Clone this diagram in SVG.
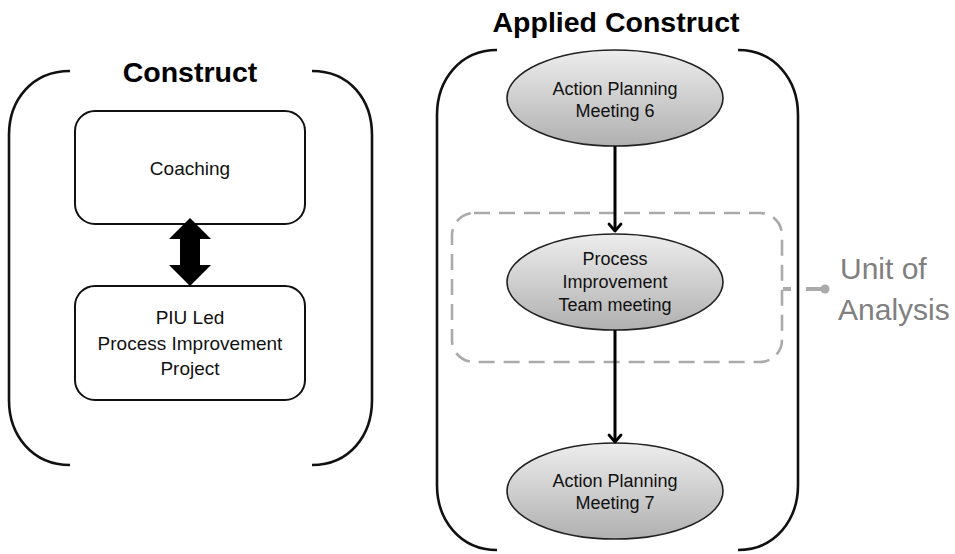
<svg xmlns="http://www.w3.org/2000/svg" width="955" height="554" viewBox="0 0 955 554">
<defs>
<linearGradient id="eg" x1="0" y1="0" x2="0" y2="1">
<stop offset="0" stop-color="#ededed"/>
<stop offset="1" stop-color="#b0b0b0"/>
</linearGradient>
<marker id="ah" markerWidth="16" markerHeight="16" viewBox="0 0 16 16" refX="14" refY="8" orient="auto" markerUnits="userSpaceOnUse">
<path d="M7 2 L14 8 L7 14" fill="none" stroke="#000" stroke-width="2.8" stroke-linecap="round" stroke-linejoin="round"/>
</marker>
</defs>
<style>
.br{fill:none;stroke:#111;stroke-width:2.6}
.box{fill:#fff;stroke:#111;stroke-width:2}
.ell{fill:url(#eg);stroke:#222;stroke-width:1.6}
.t{font-family:"Liberation Sans",Arial,sans-serif;font-size:19px;fill:#111;text-anchor:middle}
.te{font-family:"Liberation Sans",Arial,sans-serif;font-size:18px;fill:#111;text-anchor:middle}
.ti{font-family:"Liberation Sans",Arial,sans-serif;font-size:28.5px;font-weight:bold;fill:#000;text-anchor:middle}
.ua{font-family:"Liberation Sans",Arial,sans-serif;font-size:30px;fill:#808080}
.conn{fill:none;stroke:#000;stroke-width:3}
</style>
<rect width="955" height="554" fill="#fff"/>

<g id="construct">
<path class="br" d="M70 71 C32 71 9 100 9 135 V400 C9 435 32 465 70 465"/>
<path class="br" d="M312 71 C350 71 372 100 372 135 V400 C372 435 350 465 312 465"/>
<text class="ti" x="190" y="82">Construct</text>
</g>

<g id="coaching">
<rect class="box" x="75" y="111" width="230" height="113" rx="20"/>
<text class="t" x="190" y="175">Coaching</text>
</g>

<g id="piu">
<rect class="box" x="75" y="286" width="230" height="114" rx="20"/>
<text class="t" x="190" y="324">PIU Led</text>
<text class="t" x="190" y="350">Process Improvement</text>
<text class="t" x="190" y="375">Project</text>
</g>

<g id="applied">
<path class="br" d="M497 50 C460 50 437 80 437 115 V485 C437 520 460 550 497 550"/>
<path class="br" d="M738 50 C775 50 798 80 798 115 V485 C798 520 775 550 738 550"/>
<text class="ti" x="616" y="32">Applied Construct</text>
</g>

<g id="unit-of-analysis">
<rect x="452" y="213" width="330" height="149" rx="22" fill="none" stroke="#aaa" stroke-width="2.6" stroke-dasharray="16 9"/>
<text class="ua" x="840" y="279">Unit of</text>
<text class="ua" x="838" y="320">Analysis</text>
</g>

<g id="apm6">
<ellipse class="ell" cx="615" cy="98" rx="108" ry="48"/>
<text class="te" x="615" y="95">Action Planning</text>
<text class="te" x="615" y="117">Meeting 6</text>
</g>

<g id="pit">
<ellipse class="ell" cx="615" cy="282" rx="108" ry="48"/>
<text class="te" x="615" y="265">Process</text>
<text class="te" x="615" y="288">Improvement</text>
<text class="te" x="615" y="311">Team meeting</text>
</g>

<g id="apm7">
<ellipse class="ell" cx="615" cy="491" rx="108" ry="48"/>
<text class="te" x="615" y="487">Action Planning</text>
<text class="te" x="615" y="509">Meeting 7</text>
</g>

<g id="connectors">
<polygon points="190,218 211,239 200,239 200,265 211,265 190,286 169,265 180,265 180,239 169,239" fill="#000"/>
<line class="conn" x1="615" y1="146" x2="615" y2="231" marker-end="url(#ah)"/>
<line class="conn" x1="615" y1="330" x2="615" y2="442" marker-end="url(#ah)"/>
<path d="M783 289 H791 M806 289 H822" fill="none" stroke="#aaa" stroke-width="4"/>
<circle cx="825" cy="289" r="4.5" fill="#aaa"/>
</g>
</svg>
